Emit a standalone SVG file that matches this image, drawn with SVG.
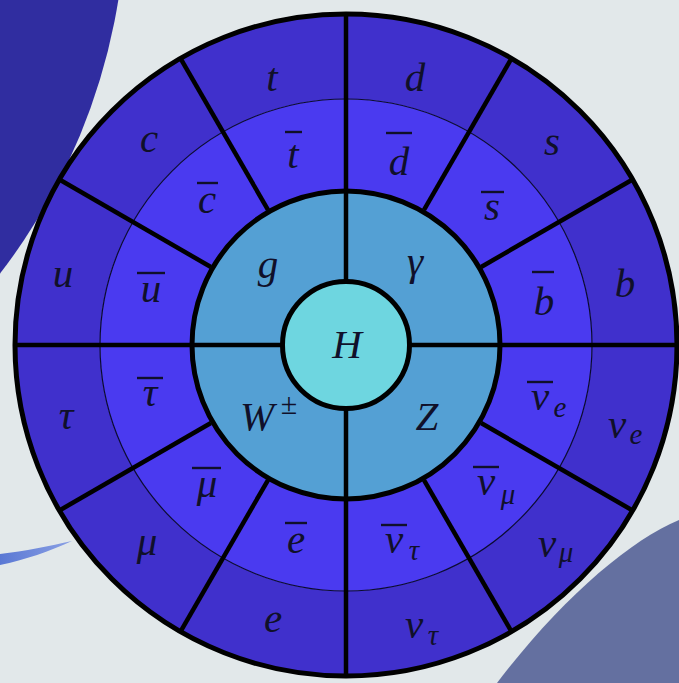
<svg xmlns="http://www.w3.org/2000/svg" xmlns:xlink="http://www.w3.org/1999/xlink" width="679" height="683" viewBox="0 0 679 683">
<style>
.p{fill:#4030cc}
.a{fill:#4a3af0}
.bz{fill:#54a0d4}
.l{font-family:'Liberation Serif','DejaVu Serif',serif;font-style:italic;font-size:41px;fill:#10102a;text-anchor:middle}
.s{font-size:29px}
.pm{font-style:normal;font-size:30px}
.bar{stroke:#10102a;stroke-width:2.4}
.sp{stroke:#000;stroke-width:4.5;fill:none}
.ring{stroke:#000;stroke-width:5;fill:none}
</style>
<defs>
<path id="wo" d="M246,0 L331,0 A331,331 0 0 1 286.65,165.5 L213.04,123 A246,246 0 0 0 246,0 Z"/>
<path id="wa" d="M154,0 L246,0 A246,246 0 0 1 213.04,123 L133.37,77 A154,154 0 0 0 154,0 Z"/>
<path id="wb" d="M63.5,0 L154,0 A154,154 0 0 1 0,154 L0,63.5 A63.5,63.5 0 0 0 63.5,0 Z"/>
<linearGradient id="sl" x1="0" y1="0" x2="1" y2="0">
<stop offset="0" stop-color="#5a78d4"/>
<stop offset="1" stop-color="#8aa0e4"/>
</linearGradient>
</defs>
<rect width="679" height="683" fill="#e2e8ea"/>
<g id="backdrop">
<circle cx="-479" cy="-96" r="605" fill="#302da0"/>
<path d="M679,520 C630,540 560,600 497,683 L679,683 Z" fill="#6470a0"/>
<path d="M0,554 C25,551 50,546 72,541 C50,551 25,560 0,565 Z" fill="url(#sl)"/>
</g>
<g id="particles">
<g id="n-d"><use xlink:href="#wo" class="p" transform="translate(346 345) rotate(-90)"/><text class="l" x="415" y="91">d</text></g>
<g id="n-s"><use xlink:href="#wo" class="p" transform="translate(346 345) rotate(-60)"/><text class="l" x="552" y="155">s</text></g>
<g id="n-b"><use xlink:href="#wo" class="p" transform="translate(346 345) rotate(-30)"/><text class="l" x="625" y="297">b</text></g>
<g id="n-nue"><use xlink:href="#wo" class="p" transform="translate(346 345) rotate(0)"/><text class="l" x="617" y="438">ν</text><text class="l s" x="636" y="444">e</text></g>
<g id="n-numu"><use xlink:href="#wo" class="p" transform="translate(346 345) rotate(30)"/><text class="l" x="547" y="557">ν</text><text class="l s" x="566" y="562">μ</text></g>
<g id="n-nutau"><use xlink:href="#wo" class="p" transform="translate(346 345) rotate(60)"/><text class="l" x="414" y="638">ν</text><text class="l s" x="433" y="645">τ</text></g>
<g id="n-e"><use xlink:href="#wo" class="p" transform="translate(346 345) rotate(90)"/><text class="l" x="273" y="632">e</text></g>
<g id="n-mu"><use xlink:href="#wo" class="p" transform="translate(346 345) rotate(120)"/><text class="l" x="147" y="555">μ</text></g>
<g id="n-tau"><use xlink:href="#wo" class="p" transform="translate(346 345) rotate(150)"/><text class="l" x="66" y="429">τ</text></g>
<g id="n-u"><use xlink:href="#wo" class="p" transform="translate(346 345) rotate(180)"/><text class="l" x="63" y="287">u</text></g>
<g id="n-c"><use xlink:href="#wo" class="p" transform="translate(346 345) rotate(210)"/><text class="l" x="149" y="152">c</text></g>
<g id="n-t"><use xlink:href="#wo" class="p" transform="translate(346 345) rotate(240)"/><text class="l" x="272" y="91">t</text></g>
</g>
<g id="antiparticles">
<g id="n-dbar"><use xlink:href="#wa" class="a" transform="translate(346 345) rotate(-90)"/><text class="l" x="399" y="175">d</text><line class="bar" x1="386" y1="133" x2="412" y2="133"/></g>
<g id="n-sbar"><use xlink:href="#wa" class="a" transform="translate(346 345) rotate(-60)"/><text class="l" x="492" y="220">s</text><line class="bar" x1="481" y1="192" x2="504" y2="192"/></g>
<g id="n-bbar"><use xlink:href="#wa" class="a" transform="translate(346 345) rotate(-30)"/><text class="l" x="544" y="315">b</text><line class="bar" x1="532" y1="272" x2="554" y2="272"/></g>
<g id="n-nuebar"><use xlink:href="#wa" class="a" transform="translate(346 345) rotate(0)"/><text class="l" x="540" y="410">ν</text><text class="l s" x="560" y="417">e</text><line class="bar" x1="527" y1="382" x2="553" y2="382"/></g>
<g id="n-numubar"><use xlink:href="#wa" class="a" transform="translate(346 345) rotate(30)"/><text class="l" x="486" y="495">ν</text><text class="l s" x="508" y="504">μ</text><line class="bar" x1="473" y1="467" x2="499" y2="467"/></g>
<g id="n-nutaubar"><use xlink:href="#wa" class="a" transform="translate(346 345) rotate(60)"/><text class="l" x="394" y="553">ν</text><text class="l s" x="414" y="560">τ</text><line class="bar" x1="381" y1="525" x2="407" y2="525"/></g>
<g id="n-ebar"><use xlink:href="#wa" class="a" transform="translate(346 345) rotate(90)"/><text class="l" x="296" y="553">e</text><line class="bar" x1="285" y1="523" x2="307" y2="523"/></g>
<g id="n-mubar"><use xlink:href="#wa" class="a" transform="translate(346 345) rotate(120)"/><text class="l" x="207" y="497">μ</text><line class="bar" x1="192" y1="468" x2="221" y2="468"/></g>
<g id="n-taubar"><use xlink:href="#wa" class="a" transform="translate(346 345) rotate(150)"/><text class="l" x="150" y="406">τ</text><line class="bar" x1="137" y1="378" x2="163" y2="378"/></g>
<g id="n-ubar"><use xlink:href="#wa" class="a" transform="translate(346 345) rotate(180)"/><text class="l" x="151" y="302">u</text><line class="bar" x1="137" y1="273" x2="165" y2="273"/></g>
<g id="n-cbar"><use xlink:href="#wa" class="a" transform="translate(346 345) rotate(210)"/><text class="l" x="207" y="213">c</text><line class="bar" x1="197" y1="183" x2="218" y2="183"/></g>
<g id="n-tbar"><use xlink:href="#wa" class="a" transform="translate(346 345) rotate(240)"/><text class="l" x="293" y="168">t</text><line class="bar" x1="285" y1="132" x2="302" y2="132"/></g>
</g>
<g id="bosons">
<g id="n-gamma"><use xlink:href="#wb" class="bz" transform="translate(346 345) rotate(-90)"/><text class="l" x="415" y="275">γ</text></g>
<g id="n-Z"><use xlink:href="#wb" class="bz" transform="translate(346 345) rotate(0)"/><text class="l" x="427" y="430">Z</text></g>
<g id="n-W"><use xlink:href="#wb" class="bz" transform="translate(346 345) rotate(90)"/><text class="l" x="257" y="430">W</text><text class="l pm" x="289" y="414">±</text></g>
<g id="n-g"><use xlink:href="#wb" class="bz" transform="translate(346 345) rotate(180)"/><text class="l" x="268" y="278">g</text></g>
</g>
<circle cx="346" cy="345" r="246" fill="none" stroke="#0a0a30" stroke-width="1.2"/>
<g id="connectors">
<line class="sp" x1="346" y1="13" x2="346" y2="677"/>
<line class="sp" x1="14" y1="345" x2="678" y2="345"/>
<line class="sp" x1="481.1" y1="423" x2="632.6" y2="510.5"/>
<line class="sp" x1="424" y1="480.1" x2="511.5" y2="631.6"/>
<line class="sp" x1="268" y1="480.1" x2="180.5" y2="631.6"/>
<line class="sp" x1="210.9" y1="423" x2="59.4" y2="510.5"/>
<line class="sp" x1="210.9" y1="267" x2="59.4" y2="179.5"/>
<line class="sp" x1="268" y1="209.9" x2="180.5" y2="58.4"/>
<line class="sp" x1="424" y1="209.9" x2="511.5" y2="58.4"/>
<line class="sp" x1="481.1" y1="267" x2="632.6" y2="179.5"/>
<circle class="ring" cx="346" cy="345" r="331"/>
<circle class="ring" cx="346" cy="345" r="154"/>
</g>
<g id="n-H">
<circle cx="346" cy="345" r="63.5" fill="#6ed6e0" stroke="#000" stroke-width="5"/>
<text class="l" x="347" y="358">H</text>
</g>
</svg>
